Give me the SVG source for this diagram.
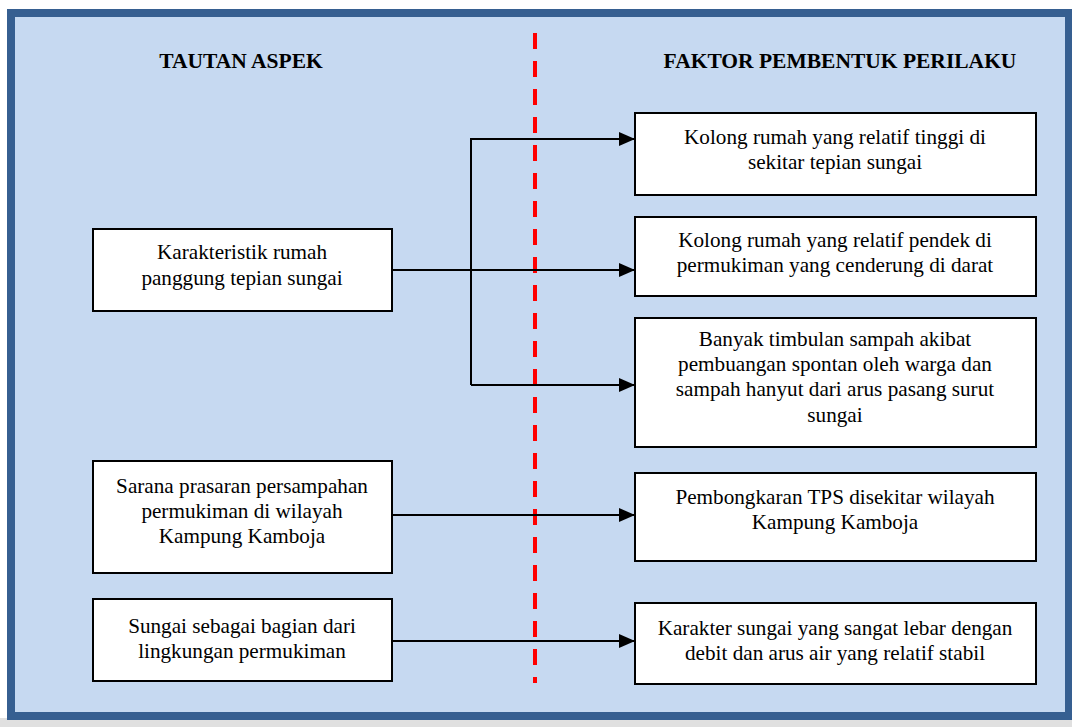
<svg xmlns="http://www.w3.org/2000/svg" width="1072" height="727" viewBox="0 0 1072 727">
<defs>
<style>
.t{font-family:'Liberation Serif','Times New Roman','DejaVu Serif',serif;font-size:21.2px;fill:#000;text-anchor:middle}
.h{font-family:'Liberation Serif','Times New Roman','DejaVu Serif',serif;font-size:21.5px;font-weight:bold;fill:#000;text-anchor:middle}
.box{fill:#fff;stroke:#000;stroke-width:2}
.c{fill:none;stroke:#000;stroke-width:2}
</style>
<marker id="ah" markerWidth="16" markerHeight="14" refX="16" refY="7" orient="auto" markerUnits="userSpaceOnUse">
<path d="M0,0 L16,7 L0,14 Z" fill="#000"/>
</marker>
</defs>
<rect x="0" y="0" width="1072" height="727" fill="#ffffff"/>
<rect x="0" y="718" width="1072" height="9" fill="#e0e0e0"/>
<rect x="11" y="13" width="1058" height="703" fill="#c6d9f1" stroke="#365f91" stroke-width="8"/>
<line x1="535" y1="33" x2="535" y2="683" stroke="#ff0000" stroke-width="4" stroke-dasharray="16 12"/>
<text class="h" x="241" y="68">TAUTAN ASPEK</text>
<text class="h" x="840" y="68">FAKTOR PEMBENTUK PERILAKU</text>
<g id="connectors">
<path class="c" d="M392,270 L635,270" marker-end="url(#ah)"/>
<path class="c" d="M471,385 L471,139 L635,139" marker-end="url(#ah)"/>
<path class="c" d="M471,385 L635,385" marker-end="url(#ah)"/>
<path class="c" d="M392,515 L635,515" marker-end="url(#ah)"/>
<path class="c" d="M392,641 L635,641" marker-end="url(#ah)"/>
</g>
<g id="L1">
<rect class="box" x="93" y="229" width="299" height="82"/>
<text class="t" x="242" y="259">Karakteristik rumah</text>
<text class="t" x="242" y="285">panggung tepian sungai</text>
</g>
<g id="L2">
<rect class="box" x="93" y="461" width="299" height="112"/>
<text class="t" x="242" y="493">Sarana prasaran persampahan</text>
<text class="t" x="242" y="518">permukiman di wilayah</text>
<text class="t" x="242" y="543">Kampung Kamboja</text>
</g>
<g id="L3">
<rect class="box" x="93" y="599" width="299" height="82"/>
<text class="t" x="242" y="633">Sungai sebagai bagian dari</text>
<text class="t" x="242" y="658">lingkungan permukiman</text>
</g>
<g id="R1">
<rect class="box" x="635" y="113" width="401" height="82"/>
<text class="t" x="835" y="144">Kolong rumah yang relatif tinggi di</text>
<text class="t" x="835" y="169">sekitar tepian sungai</text>
</g>
<g id="R2">
<rect class="box" x="635" y="217" width="401" height="79"/>
<text class="t" x="835" y="247">Kolong rumah yang relatif pendek di</text>
<text class="t" x="835" y="272">permukiman yang cenderung di darat</text>
</g>
<g id="R3">
<rect class="box" x="635" y="318" width="401" height="129"/>
<text class="t" x="835" y="346">Banyak timbulan sampah akibat</text>
<text class="t" x="835" y="371">pembuangan spontan oleh warga dan</text>
<text class="t" x="835" y="396">sampah hanyut dari arus pasang surut</text>
<text class="t" x="835" y="422">sungai</text>
</g>
<g id="R4">
<rect class="box" x="635" y="473" width="401" height="88"/>
<text class="t" x="835" y="504">Pembongkaran TPS disekitar wilayah</text>
<text class="t" x="835" y="529">Kampung Kamboja</text>
</g>
<g id="R5">
<rect class="box" x="635" y="603" width="401" height="81"/>
<text class="t" x="835" y="635">Karakter sungai yang sangat lebar dengan</text>
<text class="t" x="835" y="660">debit dan arus air yang relatif stabil</text>
</g>
</svg>
